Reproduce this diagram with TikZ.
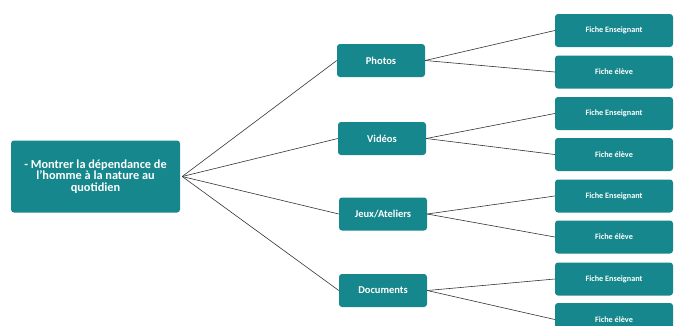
\documentclass[tikz,border=0pt]{standalone}
\usepackage{fontspec}
\setmainfont{Carlito}
\begin{document}
\begin{tikzpicture}[x=1pt,y=-1pt,
  box/.style={fill=teal0, rounded corners=3pt, text=white, font=\bfseries, inner sep=0pt, align=center},
  rootbox/.style={box, minimum width=169pt, minimum height=72pt, font=\bfseries\fontsize{12.3}{11.5}\selectfont},
  catbox/.style={box, minimum width=88pt, minimum height=33pt, font=\bfseries\fontsize{10.5}{11}\selectfont},
  fichebox/.style={box, minimum width=118pt, minimum height=33pt, font=\bfseries\fontsize{8.2}{9}\selectfont},
  link/.style={draw=black!80, line width=0.6pt}]
\definecolor{teal0}{RGB}{22,135,140}
\useasboundingbox (0,0) rectangle (676,325);
\node[rootbox] (root) at (95.5,176.5) {- Montrer la dépendance de\\l'homme à la nature au\\quotidien};
\node[catbox] (c1) at (381,60.5) {Photos};
\node[catbox] (c2) at (382,138.5) {Vidéos};
\node[catbox] (c3) at (383,214) {Jeux/Ateliers};
\node[catbox] (c4) at (383,290.5) {Documents};
\node[fichebox] (f1) at (614,30.5) {Fiche Enseignant};
\node[fichebox] (f2) at (614,72) {Fiche élève};
\node[fichebox] (f3) at (614,113.5) {Fiche Enseignant};
\node[fichebox] (f4) at (614,154.5) {Fiche élève};
\node[fichebox] (f5) at (614,196) {Fiche Enseignant};
\node[fichebox] (f6) at (614,237) {Fiche élève};
\node[fichebox] (f7) at (614,279) {Fiche Enseignant};
\node[fichebox] (f8) at (614,319.5) {Fiche élève};
\coordinate (r) at ([xshift=2pt]root.east);
\foreach \c in {c1,c2,c3,c4} \draw[link] (r) -- (\c.west);
\draw[link] (c1.east) -- (f1.west);
\draw[link] (c1.east) -- (f2.west);
\draw[link] (c2.east) -- (f3.west);
\draw[link] (c2.east) -- (f4.west);
\draw[link] (c3.east) -- (f5.west);
\draw[link] (c3.east) -- (f6.west);
\draw[link] (c4.east) -- (f7.west);
\draw[link] (c4.east) -- (f8.west);
\end{tikzpicture}
\end{document}
